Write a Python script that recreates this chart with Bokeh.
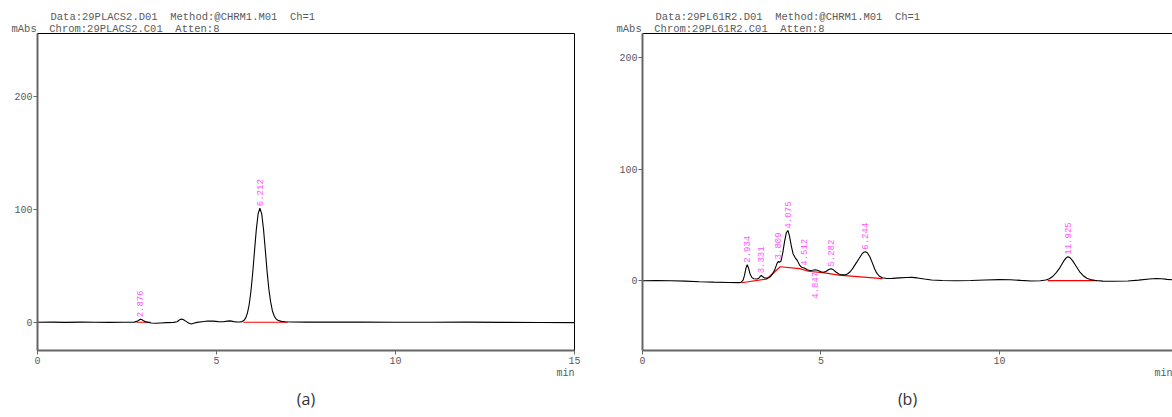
import numpy as np
from bokeh.plotting import figure
from bokeh.models import Range1d, FixedTicker, LinearAxis, ColumnDataSource, Title
from bokeh.layouts import row
from bokeh.embed import file_html
from bokeh.resources import INLINE
from bokeh.core.properties import value

# ---------------- Panel (a) data ----------------
a_time = [0.0, 0.4, 0.8, 1.2, 1.6, 2.0, 2.4, 2.7, 2.78, 2.84, 2.876, 2.92, 2.98, 3.06,
          3.18, 3.3, 3.45, 3.6, 3.8, 3.9, 3.96, 4.02, 4.08, 4.15, 4.22, 4.3, 4.36, 4.45,
          4.6, 4.75, 4.9, 5.05, 5.2, 5.3, 5.38, 5.48, 5.58, 5.65, 5.712, 5.762, 5.812,
          5.862, 5.912, 5.962, 6.012, 6.062, 6.112, 6.162, 6.212, 6.262, 6.312, 6.362,
          6.412, 6.462, 6.512, 6.562, 6.612, 6.662, 6.712, 6.812, 6.912, 7.1, 7.5, 8.0,
          9.0, 10.0, 11.0, 12.0, 13.0, 14.0, 15.0]
a_signal = [0.0, 0.1, -0.1, 0.1, 0.0, -0.1, 0.0, 0.1, 0.8, 2.0, 2.6, 2.2, 1.0, 0.1,
            -0.6, -0.9, -0.6, -0.3, -0.1, 0.5, 2.0, 2.8, 2.2, 0.8, -0.6, -1.5, -0.8, -0.1,
            0.5, 1.1, 1.0, 0.6, 0.5, 1.0, 1.2, 0.6, 0.2, 0.2, 0.6, 1.5, 3.6,
            7.9, 15.5, 27.5, 43.9, 63.2, 82.0, 95.9, 101.0, 96.2, 82.8, 64.5,
            45.5, 29.5, 18.0, 10.0, 5.5, 3.0, 1.8, 0.8, 0.4, 0.2, 0.1, 0.1,
            0.2, 0.0, 0.0, 0.1, -0.1, -0.2, -0.3]
a_base_t = [[2.77, 3.16], [5.75, 6.99]]
a_base_v = [[0.0, 0.0], [0.0, 0.0]]
a_peak_t = [2.876, 6.212]
a_peak_v = [2.6, 101.0]
a_peak_lbl = ["2.876", "6.212"]

# ---------------- Panel (b) data ----------------
b_time = [0.0, 0.4, 0.8, 1.2, 1.6, 2.0, 2.4, 2.7, 2.76, 2.82, 2.86, 2.9, 2.934, 2.97,
          3.01, 3.06, 3.12, 3.2, 3.26, 3.3, 3.331, 3.37, 3.42, 3.5, 3.58, 3.66, 3.72,
          3.77, 3.809, 3.84, 3.88, 3.93, 3.98, 4.03, 4.075, 4.12, 4.17, 4.22, 4.28,
          4.34, 4.4, 4.46, 4.512, 4.56, 4.62, 4.68, 4.76, 4.847, 4.92, 5.0, 5.08, 5.15,
          5.22, 5.282, 5.34, 5.42, 5.5, 5.58, 5.66, 5.74, 5.82, 5.9, 5.98, 6.06, 6.14,
          6.2, 6.244, 6.3, 6.37, 6.44, 6.5, 6.56, 6.63, 6.72, 6.85, 7.0, 7.2, 7.4, 7.55,
          7.7, 7.9, 8.1, 8.4, 8.8, 9.2, 9.6, 10.0, 10.3, 10.6, 10.9, 11.15, 11.3, 11.4,
          11.5, 11.6, 11.7, 11.8, 11.87, 11.925, 11.98, 12.05, 12.15, 12.25, 12.35,
          12.45, 12.55, 12.7, 12.9, 13.2, 13.6, 13.9, 14.2, 14.4, 14.55, 14.7, 14.85, 15.0]
b_signal = [0.0, 0.1, -0.1, -0.4, -0.9, -1.3, -1.6, -1.7, -1.5, 0.5, 5.0, 11.5, 14.3, 11.5,
            6.5, 3.0, 1.8, 1.5, 2.2, 4.0, 4.8, 3.5, 2.4, 2.3, 3.5, 7.0, 11.0,
            15.5, 17.3, 16.5, 17.5, 25.0, 35.0, 43.0, 45.0, 40.0, 31.0, 24.0, 20.5,
            18.0, 14.0, 12.0, 11.6, 11.0, 9.8, 9.2, 9.4, 9.8, 9.2, 8.0, 7.6, 8.5,
            10.0, 10.8, 10.0, 7.8, 6.0, 5.2, 5.2, 6.0, 8.0, 11.5, 15.5, 19.5, 23.5,
            25.5, 26.0, 25.0, 21.5, 16.0, 11.0, 7.0, 4.2, 2.6, 2.0, 2.1, 2.5, 2.9, 3.0,
            2.5, 1.5, 0.7, 0.2, 0.0, 0.2, 0.6, 1.0, 0.9, 0.3, -0.2, 0.0, 0.6, 1.8,
            4.0, 7.5, 12.0, 17.5, 20.5, 21.5, 20.5, 18.0, 13.0, 8.0, 4.5,
            2.2, 1.0, 0.2, -0.4, -0.5, -0.2, 0.5, 1.5, 2.0, 1.8, 1.2, 0.9, 1.0]
b_base_t = [[2.78, 3.48, 3.86, 4.4, 4.65, 5.1, 5.5, 6.72], [11.35, 12.75]]
b_base_v = [[-1.8, 1.5, 12.5, 10.8, 8.5, 7.0, 5.0, 1.8], [0.0, 0.0]]
b_peak_t = [2.934, 3.331, 3.809, 4.075, 4.512, 5.282, 6.244, 11.925]
b_peak_v = [14.3, 4.8, 17.3, 45.0, 11.6, 10.8, 26.0, 21.5]
b_peak_lbl = ["2.934", "3.331", "3.809", "4.075", "4.512", "5.282", "6.244", "11.925"]
b_low_t = [4.847]
b_low_v = [9.8]
b_low_lbl = ["4.847"]

y_ticks = [0, 100, 200]
x_ticks = [0, 5, 10, 15]

MONO = "Liberation Mono"
GRAY = "#5a5a5a"
PINK = "#ff55ff"
SP2 = "\u00a0\u00a0"


def base_fig(width, xr, yr, min_left, min_right):
    p = figure(width=width, height=417, output_backend="svg", toolbar_location=None,
               tools="", x_range=Range1d(*xr), y_range=Range1d(*yr),
               min_border_left=min_left, min_border_right=min_right,
               min_border_top=33, min_border_bottom=66)
    p.xgrid.visible = False
    p.ygrid.visible = False
    p.background_fill_color = "white"
    p.border_fill_color = "white"
    for ax in (p.xaxis[0], p.yaxis[0]):
        ax.axis_line_color = "#666666"
        ax.axis_line_width = 2
        ax.major_tick_line_color = "#666666"
        ax.major_tick_out = 4
        ax.major_tick_in = 0
        ax.minor_tick_line_color = None
        ax.major_label_text_font = MONO
        ax.major_label_text_font_size = "10px"
        ax.major_label_text_color = GRAY
    p.xaxis[0].ticker = FixedTicker(ticks=x_ticks)
    p.yaxis[0].ticker = FixedTicker(ticks=y_ticks)
    p.xaxis[0].major_label_standoff = 2
    p.yaxis[0].major_label_standoff = 1
    return p


def mono_title(text, align, offset, standoff, size="10.5px"):
    return Title(text=text, align=align, offset=offset, standoff=standoff,
                 text_font=MONO, text_font_size=size, text_color=GRAY,
                 text_font_style="normal")


def header(p, line1, line2):
    # first added sits closest to the frame
    p.add_layout(mono_title(line2, "left", -26, -3), "above")
    p.add_layout(mono_title(line1, "left", 13, -1), "above")


def footer(p, caption, cap_offset):
    p.add_layout(mono_title("min", "right", 0, -2, "10px"), "below")
    p.add_layout(Title(text=caption, align="center", standoff=16, offset=cap_offset,
                       text_font="Open Sans", text_font_size="16px",
                       text_color="#333333", text_font_style="normal"), "below")


def draw(p, t, s, bt, bv, pt, pv, pl):
    p.multi_line(xs=bt, ys=bv, line_color="#ff0000", line_width=1.2)
    p.line(t, s, line_color="black", line_width=1.1)
    src = ColumnDataSource(dict(x=pt, y=pv, text=pl))
    p.text(x="x", y="y", text="text", source=src, angle=np.pi / 2,
           text_font=value(MONO), text_font_size="9px", text_color=PINK,
           text_align="left", text_baseline="middle", y_offset=-2)


# ---------------- Figure (a) ----------------
pa = base_fig(600, (0, 15), (-25, 255.7), 37, 26)
pa.outline_line_color = "black"
pa.outline_line_width = 1
draw(pa, a_time, a_signal, a_base_t, a_base_v, a_peak_t, a_peak_v, a_peak_lbl)
header(pa, "Data:29PLACS2.D01" + SP2 + "Method:@CHRM1.M01" + SP2 + "Ch=1",
       "mAbs" + SP2 + "Chrom:29PLACS2.C01" + SP2 + "Atten:8")
footer(pa, "(a)", 0)

# ---------------- Figure (b) ----------------
pb = base_fig(572, (0, 14.85), (-62.5, 221.4), 42, 0)
pb.outline_line_color = None
top = LinearAxis(ticker=FixedTicker(ticks=[]), major_label_text_font_size="0px",
                 axis_line_color="black", axis_line_width=1,
                 major_tick_line_color=None, minor_tick_line_color=None,
                 major_tick_out=0, major_tick_in=0, major_label_standoff=0)
pb.add_layout(top, "above")
draw(pb, b_time, b_signal, b_base_t, b_base_v, b_peak_t, b_peak_v, b_peak_lbl)
low_src = ColumnDataSource(dict(x=b_low_t, y=b_low_v, text=b_low_lbl))
pb.text(x="x", y="y", text="text", source=low_src, angle=np.pi / 2,
        text_font=value(MONO), text_font_size="9px", text_color=PINK,
        text_align="right", text_baseline="middle", y_offset=2)
header(pb, "Data:29PL61R2.D01" + SP2 + "Method:@CHRM1.M01" + SP2 + "Ch=1",
       "mAbs" + SP2 + "Chrom:29PL61R2.C01" + SP2 + "Atten:8")
footer(pb, "(b)", 10)

layout = row(pa, pb)
open("out.html", "w").write(file_html(layout, INLINE))
